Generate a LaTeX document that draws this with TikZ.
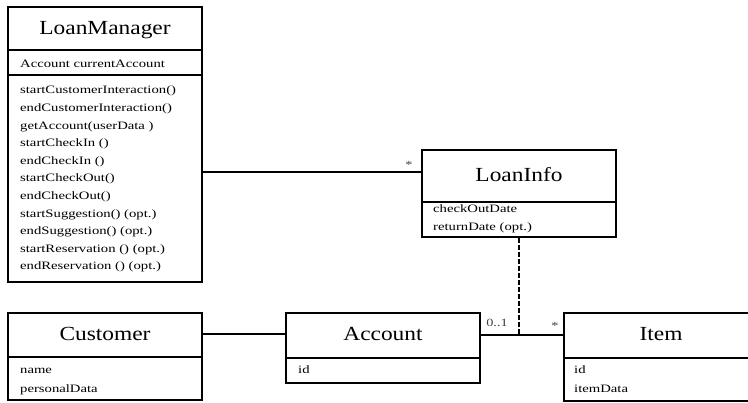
\documentclass[tikz,border=0pt]{standalone}
\usepackage{fontspec}
\newfontfamily\titlefont{Liberation Serif}[FakeStretch=1.17]
\newfontfamily\memberfont{Liberation Serif}[FakeStretch=1.3]
\usetikzlibrary{calc}
\begin{document}
\begin{tikzpicture}[x=1pt,y=-1pt,
  classbox/.style={draw, line width=1.6pt, inner sep=0pt, minimum width=194pt},
  divider/.style={line width=1.6pt},
  classtitle/.style={anchor=base, inner sep=0pt, font=\titlefont\fontsize{20}{22}\selectfont},
  member/.style={anchor=base west, inner sep=0pt, font=\memberfont\fontsize{11.3}{13}\selectfont},
  mult/.style={anchor=base, inner sep=0pt, font=\memberfont\fontsize{11}{13}\selectfont, text=black!75},
  assoc/.style={line width=1.2pt},
  linkline/.style={line width=2.6pt, dash pattern=on 5pt off 2pt}]
\useasboundingbox (0,0) rectangle (748,403);
\clip (0,0) rectangle (748,403);

% class frames
\node[classbox, minimum height=275pt] (lm) at (105,144.5) {};
\node[classbox, minimum height=87pt]  (li) at (519,193.5) {};
\node[classbox, minimum height=87pt]  (cu) at (105,356.5) {};
\node[classbox, minimum height=70pt]  (ac) at (383,348) {};
\node[classbox, minimum height=88pt]  (it) at (661,357) {};

% compartment dividers
\draw[divider] (lm.west |- 0,50) -- (lm.east |- 0,50);
\draw[divider] (lm.west |- 0,75) -- (lm.east |- 0,75);
\draw[divider] (li.west |- 0,202) -- (li.east |- 0,202);
\draw[divider] (cu.west |- 0,357) -- (cu.east |- 0,357);
\draw[divider] (ac.west |- 0,358) -- (ac.east |- 0,358);
\draw[divider] (it.west |- 0,358) -- (it.east |- 0,358);

% class names
\node[classtitle] (lmname) at (105,35)  {LoanManager};
\node[classtitle] (liname) at (519,182) {LoanInfo};
\node[classtitle] (cuname) at (105,341) {Customer};
\node[classtitle] (acname) at (383,341) {Account};
\node[classtitle] (itname) at (661,341) {Item};

% LoanManager members
\node[member] (lma) at (20,67.5) {Account currentAccount};
\foreach \txt [count=\i from 0] in {startCustomerInteraction(), endCustomerInteraction(),
    getAccount(userData ), startCheckIn (), endCheckIn (), startCheckOut(), endCheckOut(),
    startSuggestion() (opt.), endSuggestion() (opt.), startReservation () (opt.),
    endReservation () (opt.)}
  \node[member] (lmm\i) at (20,{94+17.6*\i}) {\txt};

% LoanInfo members
\node[member] (lia1) at (433,212.5) {checkOutDate};
\node[member] (lia2) at (433,230.5) {returnDate (opt.)};

% Customer members
\node[member] (cua1) at (20,374) {name};
\node[member] (cua2) at (20,392.5) {personalData};

% Account members
\node[member] (aca1) at (298,373.5) {id};

% Item members
\node[member] (ita1) at (574,373.5) {id};
\node[member] (ita2) at (574,392.5) {itemData};

% associations
\draw[assoc] (lm.east |- 0,172) -- (li.west |- 0,172);
\draw[assoc] (cu.east |- 0,334) -- (ac.west |- 0,334);
\draw[assoc] (ac.east |- 0,335) -- (it.west |- 0,335);
\draw[linkline] (li.south) -- (li.south |- 0,335);

% multiplicities
\node[mult] (m1) at (409,169) {*};
\node[mult] (m2) at (497,327) {0..1};
\node[mult] (m3) at (555,330) {*};
\end{tikzpicture}
\end{document}
